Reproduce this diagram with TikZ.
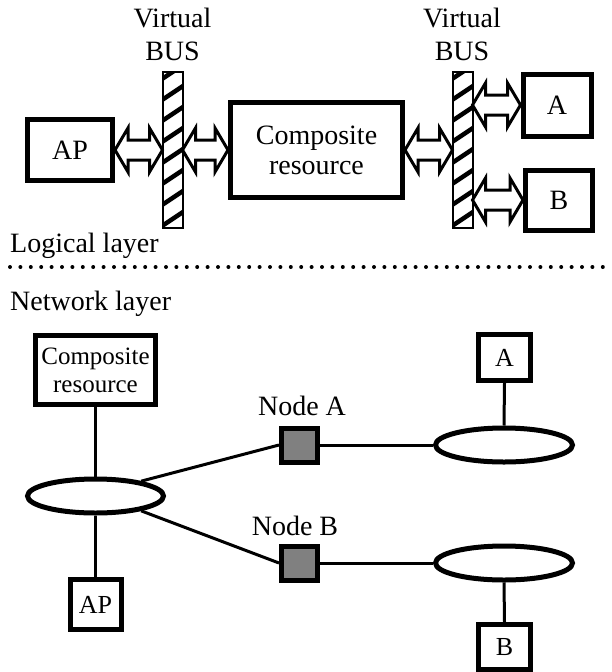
\documentclass[tikz,border=0pt]{standalone}
\usepackage{fontspec}
\setmainfont{Liberation Serif}
\newfontfamily\tnr{Liberation Serif}
\usetikzlibrary{calc,shapes.geometric}
\newcommand\dblarrow[2]{%
  \draw[dblarrsty] let \p1=(#1), \p2=(#2) in
  (\x1,\y1) -- (\x1+13pt,\y1+22pt) -- (\x1+13pt,\y1+10pt) -- (\x2-13pt,\y1+10pt)
  -- (\x2-13pt,\y1+22pt) -- (\x2,\y1) -- (\x2-13pt,\y1-22pt) -- (\x2-13pt,\y1-10pt)
  -- (\x1+13pt,\y1-10pt) -- (\x1+13pt,\y1-22pt) -- cycle;}
\begin{document}
\begin{tikzpicture}[x=1pt,y=-1pt,
  bigbox/.style={draw, rectangle, line width=5pt, fill=white, inner sep=0pt, align=center,
    font=\tnr\fontsize{28}{30}\selectfont},
  smallbox/.style={draw, rectangle, line width=5pt, fill=white, inner sep=0pt, align=center,
    font=\tnr\fontsize{26}{28}\selectfont},
  busbar/.style={rectangle, fill=white, inner sep=0pt, outer sep=0pt, minimum width=20pt, minimum height=156pt},
  netell/.style={draw, ellipse, line width=5pt, inner sep=0pt, minimum width=136pt, minimum height=34pt},
  relay/.style={draw, rectangle, line width=5pt, fill=gray, inner sep=0pt, minimum width=36pt, minimum height=34pt},
  lbl/.style={inner sep=0pt, anchor=base, font=\tnr\fontsize{28}{30}\selectfont},
  layerlbl/.style={inner sep=0pt, anchor=base west, font=\tnr\fontsize{28}{30}\selectfont},
  conn/.style={line width=3pt},
  dblarrsty/.style={draw, fill=white, line width=3pt, line join=miter},
  dotline/.style={line width=4pt, line cap=round, dash pattern=on 0pt off 10.4pt}
]
\useasboundingbox (0,0) rectangle (611,672);

% ---------- Logical layer ----------
\node[lbl] (vt1) at (172.5,27) {Virtual};
\node[lbl] (vb1) at (172.5,60) {BUS};
\node[lbl] (vt2) at (462,27) {Virtual};
\node[lbl] (vb2) at (462,60) {BUS};

\node[bigbox, minimum width=85pt, minimum height=61pt] (ap) at (70,150) {AP};
\node[bigbox, minimum width=172pt, minimum height=95pt] (comp) at (316.5,150) {Composite\\resource};
\node[bigbox, minimum width=68pt, minimum height=62pt] (a) at (557,105) {A};
\node[bigbox, minimum width=67pt, minimum height=60pt] (b) at (559,200) {B};

\node[busbar] (bus1) at (172.5,150) {};
\node[busbar] (bus2) at (462.5,150) {};
\foreach \bb in {bus1,bus2}{
  \begin{scope}
    \clip (\bb.south west) rectangle (\bb.north east);
    \foreach \yy in {80,101,...,250}
      \draw[line width=4.5pt] ($(\bb.west)+(-2,\yy-150)$) -- ++(24,-16);
  \end{scope}
  \draw[line width=2pt] (\bb.south west) rectangle (\bb.north east);
}

\dblarrow{ap.east}{bus1.west |- ap.east}
\dblarrow{bus1.east |- comp.west}{comp.west}
\dblarrow{comp.east}{bus2.west |- comp.east}
\dblarrow{bus2.east |- a.west}{a.west}
\dblarrow{bus2.east |- b.west}{b.west}

\node[layerlbl] (logl) at (10,252) {Logical layer};

% ---------- separator ----------
\coordinate (dl) at (10,267);
\coordinate (dr) at (611,267);
\draw[dotline] (dl) -- (dr);

% ---------- Network layer ----------
\node[layerlbl] (netl) at (10,310) {Network layer};

\node[smallbox, minimum width=120pt, minimum height=69pt, font=\tnr\fontsize{25}{28}\selectfont] (compb) at (95.5,370) {Composite\\resource};
\node[netell] (el1) at (95.5,496) {};
\node[smallbox, minimum width=51pt, minimum height=50pt] (apb) at (95.5,604.5) {AP};

\node[relay] (nA) at (299.5,445) {};
\node[relay] (nB) at (299.5,563) {};
\node[lbl] (nAl) at (302,415) {Node A};
\node[lbl] (nBl) at (295,535) {Node B};

\node[netell, minimum width=137pt] (el2) at (504,445) {};
\node[netell, minimum width=137pt] (el3) at (504,563) {};
\node[smallbox, minimum width=52pt, minimum height=46pt] (ab) at (504.5,357.5) {A};
\node[smallbox, minimum width=52pt, minimum height=45pt] (bb) at (504.5,647) {B};

\draw[conn] (compb.south) -- (el1.north);
\draw[conn] (el1.south) -- (apb.north);
\draw[conn] (el1.18) -- (nA.west);
\draw[conn] (el1.-18) -- (nB.west);
\draw[conn] (nA.east) -- (el2.west);
\draw[conn] (nB.east) -- (el3.west);
\draw[conn] (ab.south) -- (el2.north);
\draw[conn] (el3.south) -- (bb.north);
\end{tikzpicture}
\end{document}
